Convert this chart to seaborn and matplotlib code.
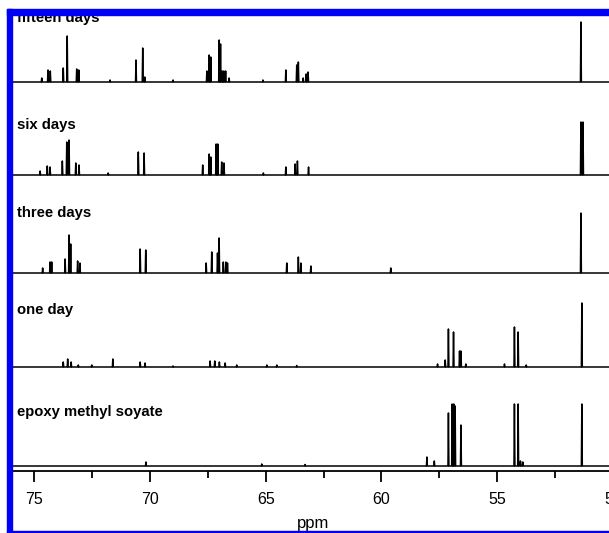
import matplotlib
matplotlib.use("Agg")
import matplotlib.pyplot as plt
from matplotlib.patches import Rectangle
from matplotlib.ticker import MultipleLocator
import numpy as np
import seaborn as sns

sns.set_style("ticks")
plt.rcParams["font.family"] = ["Liberation Sans", "DejaVu Sans"]
plt.rcParams["text.color"] = "black"
plt.rcParams["xtick.color"] = "black"
plt.rcParams["axes.edgecolor"] = "black"
plt.rcParams["axes.labelcolor"] = "black"

# peak positions (ppm) and heights
fifteen_ppm = [74.67, 74.40, 74.30, 73.74, 73.57, 73.16, 73.07, 71.72, 70.60, 70.31,
               70.22, 69.00, 67.54, 67.44, 67.37, 67.01, 66.95, 66.88, 66.81, 66.73,
               66.58, 65.12, 64.13, 63.66, 63.59, 63.38, 63.25, 63.17, 51.39]
fifteen_int = [4, 12, 11, 14, 46, 13, 12, 2, 22, 34,
               5, 2, 11, 27, 25, 42, 38, 11, 11, 11,
               4, 2, 12, 17, 20, 4, 8, 10, 60]

six_ppm = [74.74, 74.43, 74.31, 73.78, 73.59, 73.49, 73.20, 73.06, 71.80, 70.50,
           70.25, 67.72, 67.44, 67.37, 67.14, 67.07, 66.90, 66.80, 65.10, 64.13,
           63.73, 63.63, 63.15, 51.39, 51.30]
six_int = [4, 9, 8, 14, 33, 35, 12, 10, 2, 23,
           22, 10, 21, 18, 31, 31, 13, 12, 2, 8,
           11, 14, 8, 53, 53]

three_ppm = [74.63, 74.31, 74.24, 73.66, 73.49, 73.42, 73.12, 73.02, 70.42, 70.18,
             67.57, 67.33, 67.08, 67.01, 66.83, 66.72, 66.65, 64.09, 63.59, 63.48,
             63.05, 59.60, 51.39]
three_int = [5, 11, 11, 14, 38, 29, 12, 10, 24, 23,
             10, 21, 20, 35, 11, 11, 10, 10, 16, 10,
             7, 5, 60]

one_ppm = [73.74, 73.55, 73.40, 73.09, 72.51, 71.60, 70.42, 70.21, 69.00, 67.40,
           67.20, 67.00, 66.75, 66.25, 64.95, 64.52, 63.66, 57.58, 57.25, 57.11,
           56.89, 56.63, 56.57, 56.36, 54.69, 54.26, 54.10, 53.75, 51.35]
one_int = [5, 8, 5, 2, 2, 8, 5, 4, 1, 6,
           6, 5, 4, 2, 2, 2, 1.5, 3, 7, 38,
           35, 16, 16, 3, 3, 40, 35, 2, 64]

epoxy_ppm = [70.17, 65.17, 63.30, 58.04, 57.72, 57.11, 56.95, 56.88, 56.82, 56.57,
             54.26, 54.10, 54.00, 53.90, 51.35]
epoxy_int = [4, 2, 1.5, 9, 5, 53, 62, 62, 60, 41,
             62, 62, 5, 4, 62]

labels = ["fifteen days", "six days", "three days", "one day", "epoxy methyl soyate"]
spectra = [(fifteen_ppm, fifteen_int), (six_ppm, six_int), (three_ppm, three_int),
           (one_ppm, one_int), (epoxy_ppm, epoxy_int)]

# stacking layout
offsets = [389, 296, 198, 104, 5]
label_gap = [64, 50, 60, 57, 54]
ppm_hi, ppm_lo = 76.04, 49.4


def trace(ppm, inten, w=0.02):
    """Stick-like trace: flat baseline with a narrow spike at every peak."""
    order = np.argsort(ppm)[::-1]
    xs, ys = [ppm_hi], [0.0]
    for i in order:
        xs += [ppm[i] + w, ppm[i], ppm[i] - w]
        ys += [0.0, inten[i], 0.0]
    xs.append(ppm_lo)
    ys.append(0.0)
    return np.array(xs), np.array(ys)


fig = plt.figure(figsize=(6.09, 5.33), dpi=100)
ax = fig.add_axes([10 / 609, 62 / 533, 617 / 609, 456 / 533])

for (ppm, inten), off, name, gap in zip(spectra, offsets, labels, label_gap):
    xs, ys = trace(ppm, inten)
    sns.lineplot(x=xs, y=ys + off, sort=False, estimator=None,
                 color="black", lw=1.1, ax=ax)
    ax.text(75.74, off + gap, name, fontsize=10.7, fontweight="bold",
            va="center", ha="left", color="black")

ax.set_xlim(ppm_hi, ppm_lo)
ax.set_ylim(0, 456)
ax.xaxis.set_major_locator(MultipleLocator(5))
ax.xaxis.set_minor_locator(MultipleLocator(2.5))
ax.tick_params(axis="x", which="major", length=8, width=1.3, labelsize=11.5, pad=7)
ax.tick_params(axis="x", which="minor", length=5, width=1.3)
ax.set_yticks([])
ax.set_xlabel("ppm", fontsize=12)
ax.xaxis.set_label_coords(0.491, -0.098)
sns.despine(ax=ax, left=True)
ax.spines["bottom"].set_linewidth(1.3)
ax.set_facecolor("white")

# blue frame around the figure
blue = "#0000f5"
fig.add_artist(Rectangle((7 / 609, 0), 5 / 609, 524 / 533, color=blue,
                         transform=fig.transFigure, zorder=10))
fig.add_artist(Rectangle((7 / 609, 518 / 533), 602 / 609, 6 / 533, color=blue,
                         transform=fig.transFigure, zorder=10))
fig.add_artist(Rectangle((7 / 609, 1 / 533), 602 / 609, 1.5 / 533, color=blue,
                         transform=fig.transFigure, zorder=10))

fig.savefig("out.png", dpi=100)
